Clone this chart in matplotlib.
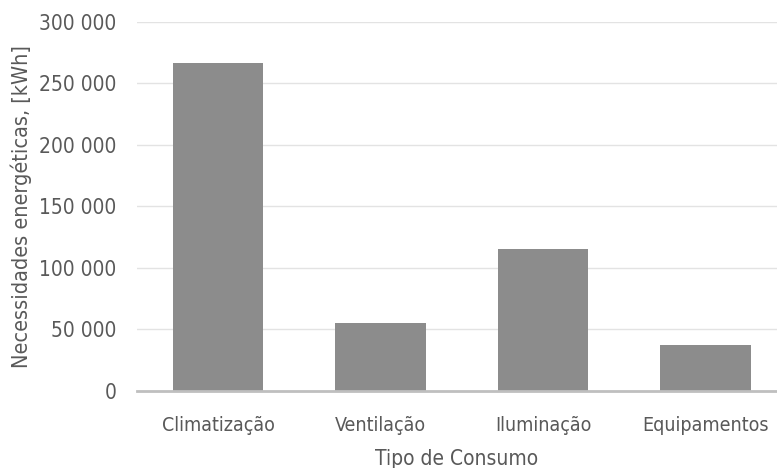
import matplotlib
matplotlib.use("Agg")
import matplotlib.pyplot as plt
from matplotlib.ticker import FuncFormatter

categorias = ["Climatização", "Ventilação", "Iluminação", "Equipamentos"]
consumo_kwh = [266500, 55300, 115200, 37200]
y_ticks = [0, 50000, 100000, 150000, 200000, 250000, 300000]

plt.rcParams['font.family'] = ['DejaVu Sans']
plt.rcParams['font.stretch'] = 'condensed'
plt.rcParams['font.weight'] = 'light'
texto = '#595959'

fig = plt.figure(figsize=(7.77, 4.68), dpi=100)
ax = fig.add_axes([0.176, 0.165, 0.824, 0.789])

ax.bar(range(len(categorias)), consumo_kwh, width=0.555, color='#8c8c8c', zorder=3)

ax.set_ylim(0, 300000)
ax.set_xlim(-0.5, 3.44)
ax.set_yticks(y_ticks)
ax.yaxis.set_major_formatter(FuncFormatter(lambda v, p: f"{int(v):,}".replace(",", " ")))
ax.set_xticks(range(len(categorias)))
ax.set_xticklabels(categorias)

ax.grid(axis='y', color='#e3e3e3', linewidth=1, zorder=0)
for s in ['top', 'right', 'left']:
    ax.spines[s].set_visible(False)
ax.spines['bottom'].set_color('#bfbfbf')
ax.spines['bottom'].set_linewidth(2)
ax.spines['bottom'].set_zorder(4)

ax.tick_params(axis='both', length=0, colors=texto)
ax.tick_params(axis='y', pad=14.5, labelsize=15)
ax.tick_params(axis='x', pad=18, labelsize=14)

ax.set_xlabel("Tipo de Consumo", fontsize=15, color=texto, labelpad=10)
ax.set_ylabel("Necessidades energéticas, [kWh]", fontsize=15.5, color=texto, labelpad=5)

plt.savefig('out.png', dpi=100)
